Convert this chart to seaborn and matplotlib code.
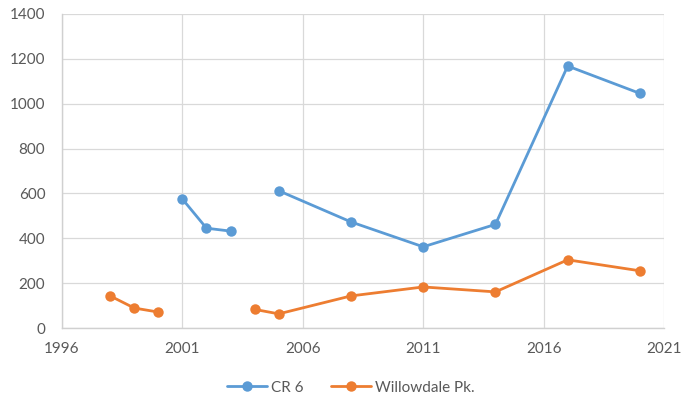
import numpy as np
import pandas as pd
import matplotlib
matplotlib.use("Agg")
import matplotlib.pyplot as plt
import seaborn as sns

years = [1998, 1999, 2000, 2001, 2002, 2003, 2004, 2005, 2008, 2011, 2014, 2017, 2020]
cr6 = [np.nan, np.nan, np.nan, 575, 445, 432, np.nan, 612, 473, 362, 462, 1168, 1046]
willowdale = [143, 89, 71, np.nan, np.nan, np.nan, 83, 63, 143, 183, 161, 304, 255]
series_names = ["CR 6", "Willowdale Pk."]
x_ticks = [1996, 2001, 2006, 2011, 2016, 2021]
y_ticks = [0, 200, 400, 600, 800, 1000, 1200, 1400]

# long-form table; a new segment starts after each missing value so gaps stay open
frames = []
for name, vals in zip(series_names, [cr6, willowdale]):
    v = pd.Series(vals, dtype=float)
    seg = v.isna().cumsum()
    df = pd.DataFrame({"year": years, "value": v, "series": name, "segment": seg})
    frames.append(df.dropna())
data = pd.concat(frames, ignore_index=True)
data["unit"] = data["series"] + "_" + data["segment"].astype(str)

sns.set_theme(style="white")
plt.rcParams["font.family"] = ["Lato", "DejaVu Sans"]

fig = plt.figure(figsize=(6.81, 4.00), dpi=100)
ax = fig.add_axes([62 / 681, 1 - 328 / 400, (664 - 62) / 681, (328 - 14) / 400])

palette = {"CR 6": "#5B9BD5", "Willowdale Pk.": "#ED7D31"}
sns.lineplot(data=data, x="year", y="value", hue="series", units="unit",
             estimator=None, palette=palette, marker="o", markersize=7.5,
             markeredgewidth=0, linewidth=2.0, ax=ax, legend=True)

ax.set_xlim(1996, 2021)
ax.set_ylim(0, 1400)
ax.set_xticks(x_ticks)
ax.set_yticks(y_ticks)
ax.grid(True, color="#d9d9d9", linewidth=0.9)
ax.set_axisbelow(True)
for side in ["top", "right"]:
    ax.spines[side].set_visible(False)
for side in ["left", "bottom"]:
    ax.spines[side].set_color("#d0d0d0")
    ax.spines[side].set_linewidth(1.0)
ax.tick_params(axis="both", colors="#595959", labelsize=11, length=0)
ax.tick_params(axis="y", pad=12)
ax.tick_params(axis="x", pad=10)
ax.set_xlabel("")
ax.set_ylabel("")

handles, labels = ax.get_legend_handles_labels()
ax.legend(handles, labels, loc="center", bbox_to_anchor=(0.48, -0.19),
          ncol=2, frameon=False, fontsize=11, labelcolor="#595959",
          handlelength=2.6, columnspacing=1.8, handletextpad=0.3)

fig.savefig("out.png", dpi=100)
